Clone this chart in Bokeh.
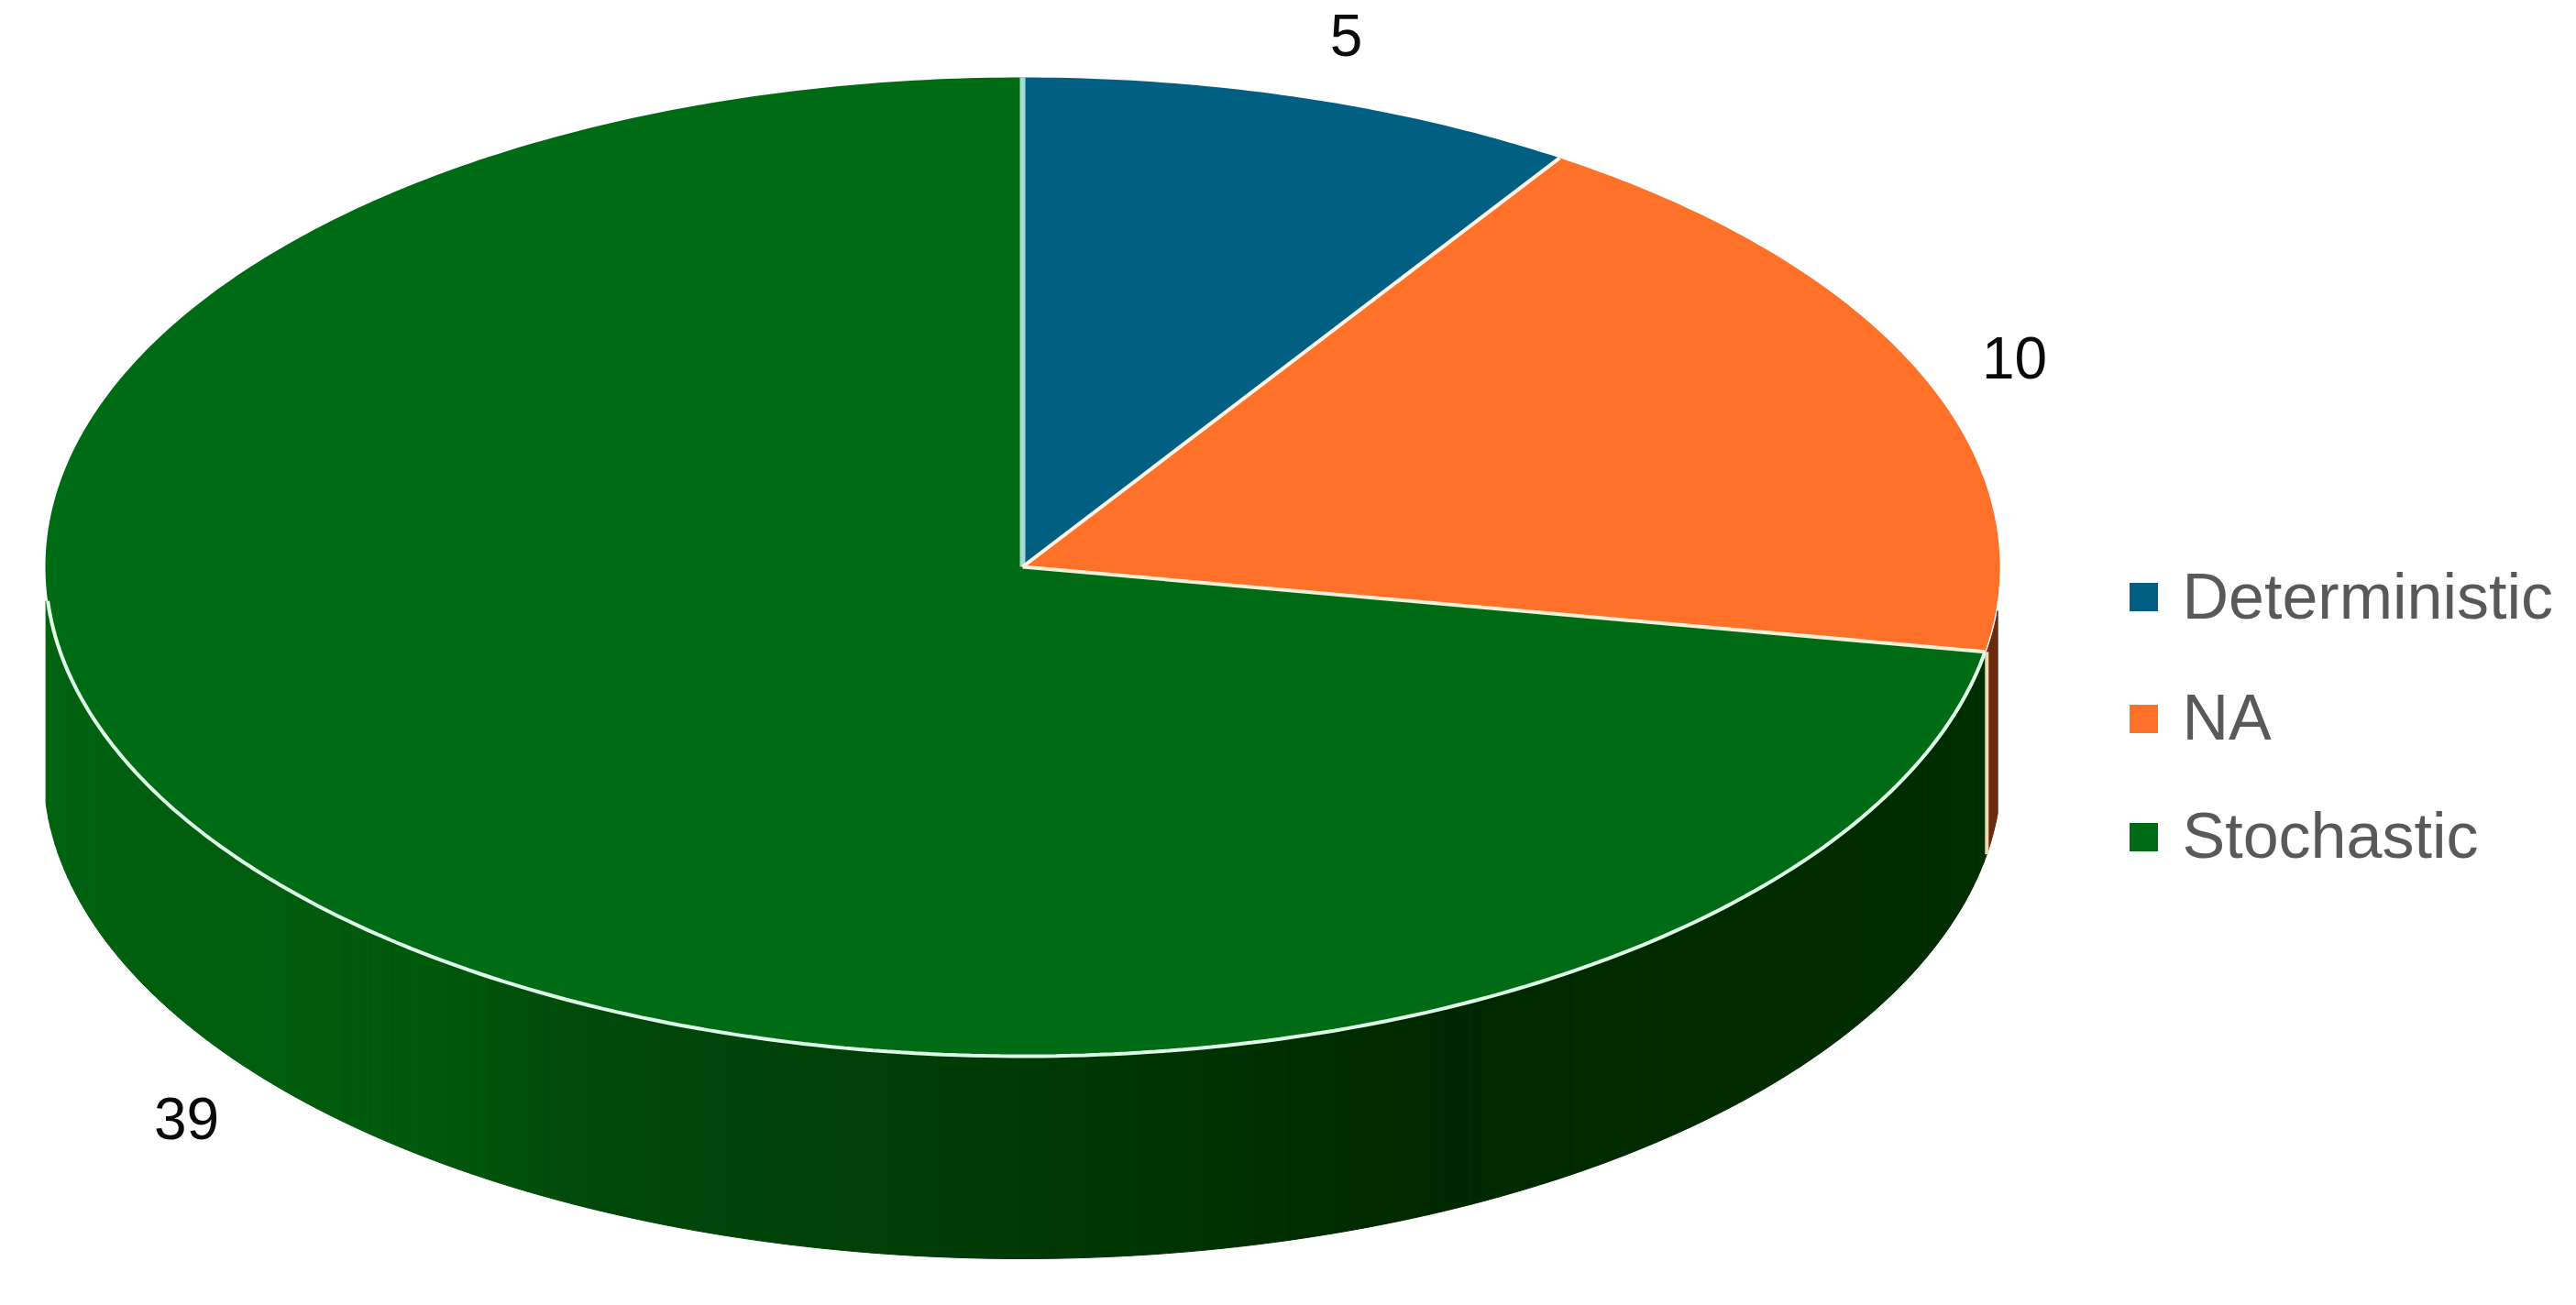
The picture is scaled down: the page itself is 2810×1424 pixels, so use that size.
import math
from bokeh.plotting import figure
from bokeh.models import Range1d
from bokeh.core.properties import value
from bokeh.embed import file_html
from bokeh.resources import INLINE

categories = ["Deterministic", "NA", "Stochastic"]
counts = [5, 10, 39]
colors = ["#005F82", "#FF7128", "#006B15"]
side_colors = ["#003040", "#6A2A10", "#003000"]
# darkness of the green wall, left to right across the pie
wall_stops = [(0.0, (0, 98, 16)), (0.20, (0, 88, 12)), (0.27, (0, 74, 10)), (0.49, (0, 58, 6)),
              (0.71, (0, 40, 0)), (1.0, (0, 46, 0))]

W, H = 2810, 1424
CX, CY, RX, RY, DEPTH = 1115, 618, 1066, 534, 221
WALL_RX = 1068
FONT = "Liberation Sans"
p = figure(width=W - 16, height=H - 16, output_backend="svg", toolbar_location=None,
           x_range=Range1d(0, W - 16), y_range=Range1d(H - 16, 0), min_border=0)
p.axis.visible = False
p.grid.visible = False
p.outline_line_color = None
p.background_fill_color = "white"


def pt(a, dy=0.0, rx=RX):
    return CX + rx * math.sin(a), CY - RY * math.cos(a) + dy


def wall_colour(x):
    t = (x - (CX - RX)) / (2 * RX)
    for (t0, c0), (t1, c1) in zip(wall_stops, wall_stops[1:]):
        if t <= t1:
            f = (t - t0) / (t1 - t0)
            return "#%02x%02x%02x" % tuple(round(a + (b - a) * f) for a, b in zip(c0, c1))
    return "#002e00"


total = sum(counts)
edges = [0.0]
for c in counts:
    edges.append(edges[-1] + 2 * math.pi * c / total)

# NA wall strip (from the right extreme to the slice end)
n = 12
a0, a1 = math.pi / 2 + 0.09, edges[2]
top = [pt(a0 + (a1 - a0) * i / n, 0, WALL_RX) for i in range(n + 1)]
bot = [pt(a0 + (a1 - a0) * i / n, DEPTH, WALL_RX) for i in range(n, -1, -1)]
p.patch([q[0] for q in top + bot], [q[1] for q in top + bot], fill_color=side_colors[1], line_color=side_colors[1])

# Stochastic wall as narrow shaded strips
a0, a1 = edges[2], 3 * math.pi / 2 - 0.07
n = 170
for i in range(n):
    s = a0 + (a1 - a0) * i / n
    e = a0 + (a1 - a0) * (i + 1) / n
    qs = [pt(s, 0, WALL_RX), pt(e, 0, WALL_RX), pt(e, DEPTH, WALL_RX), pt(s, DEPTH, WALL_RX)]
    col = wall_colour((qs[0][0] + qs[1][0]) / 2)
    p.patch([q[0] for q in qs], [q[1] for q in qs], fill_color=col, line_color=col, line_width=1)

# Top faces
for k in range(3):
    s, e = edges[k], edges[k + 1]
    n = max(4, int((e - s) * 90))
    arc = [pt(s + (e - s) * i / n) for i in range(n + 1)]
    xs = [CX] + [q[0] for q in arc]
    ys = [CY] + [q[1] for q in arc]
    p.patch(xs, ys, fill_color=colors[k], line_color=None)

# Separators and rim
sep_colors = ["#A5DCCF", "#FFF4E8", "#F4F0D8"]
sep_widths = [6, 4, 4]
for a, col, w in zip(edges[:3], sep_colors, sep_widths):
    q = pt(a)
    p.line([CX, q[0]], [CY, q[1]], line_color=col, line_width=w)
n = 200
a0, a1 = edges[2], 3 * math.pi / 2 - 0.07
arc = [pt(a0 + (a1 - a0) * i / n) for i in range(n + 1)]
p.line([q[0] for q in arc], [q[1] for q in arc], line_color="#E0FFE8", line_width=4)
q0, q1 = pt(edges[2], 0, WALL_RX), pt(edges[2], DEPTH, WALL_RX)
p.line([q0[0], q1[0]], [q0[1], q1[1]], line_color="#F0D8B0", line_width=4)

# Data labels
label_x = [1468, 2197, 203]
label_y = [38, 390, 1220]
for c, x, y in zip(counts, label_x, label_y):
    p.text([x], [y], text=[str(c)], text_font=value(FONT), text_font_size="64px", text_color="#0A0A0A",
           text_align="center", text_baseline="middle")

# Legend
leg_y = [651, 784, 913]
leg_text_y = [650, 782, 911]
for cat, col, y, ty in zip(categories, colors, leg_y, leg_text_y):
    p.scatter([2338], [y], marker="square", size=31, fill_color=col, line_color=None)
    p.text([2380], [ty], text=[cat], text_font=value(FONT), text_font_size="70px", text_color="#595959",
           text_align="left", text_baseline="middle")

open("out.html", "w").write(file_html(p, INLINE))
